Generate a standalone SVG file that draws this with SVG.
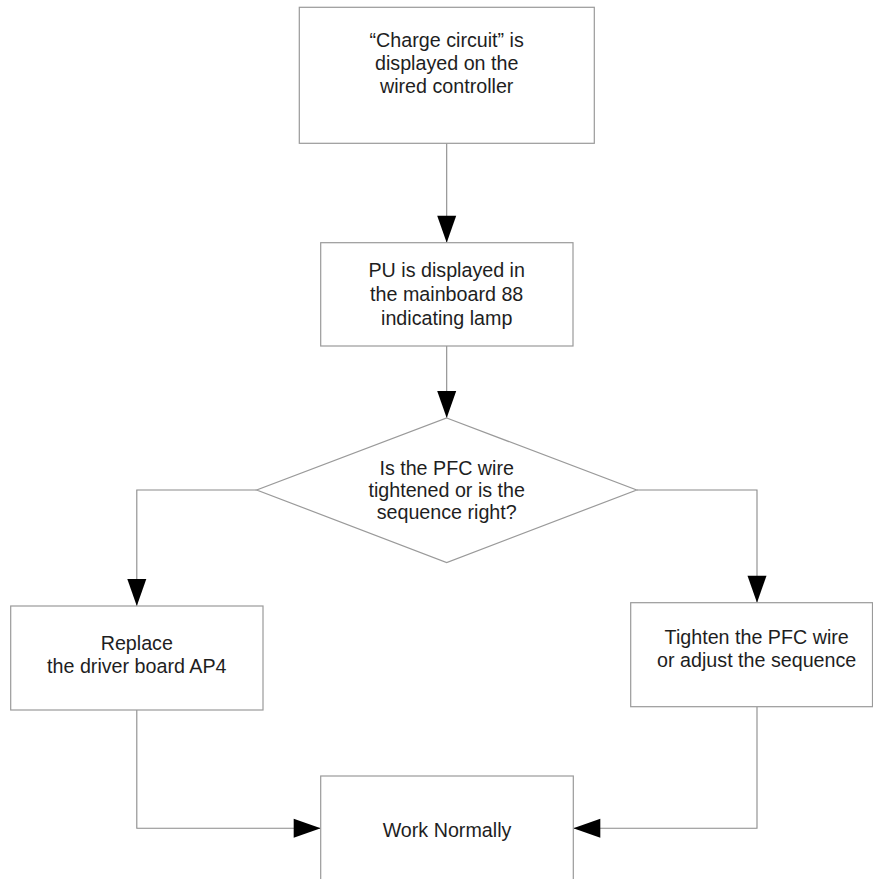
<svg xmlns="http://www.w3.org/2000/svg" width="873" height="879" viewBox="0 0 873 879">
  <style>
    .box { fill: #ffffff; stroke: #9a9a9a; stroke-width: 1.2; }
    .conn { fill: none; stroke: #8a8a8a; stroke-width: 1.1; }
    .t { font-family: "Liberation Sans", Arial, sans-serif; font-size: 19.7px; fill: #1e1e1e; text-anchor: middle; }
  </style>
  <defs>
    <marker id="arrow" markerUnits="userSpaceOnUse" markerWidth="28" markerHeight="19" refX="27" refY="9.5" orient="auto" overflow="visible">
      <path d="M0,0 L27,9.5 L0,19 Z" fill="#000000"/>
    </marker>
  </defs>
  <rect width="873" height="879" fill="#ffffff"/>

  <g id="connectors">
    <path class="conn" d="M446.7,143.3 L446.7,242.7" marker-end="url(#arrow)"/>
    <path class="conn" d="M446.7,346 L446.7,418" marker-end="url(#arrow)"/>
    <path class="conn" d="M256.7,490 L136.8,490 L136.8,606" marker-end="url(#arrow)"/>
    <path class="conn" d="M636.7,490 L757,490 L757,602.7" marker-end="url(#arrow)"/>
    <path class="conn" d="M136.8,710 L136.8,828.3 L320.7,828.3" marker-end="url(#arrow)"/>
    <path class="conn" d="M757,706.7 L757,828.3 L573.3,828.3" marker-end="url(#arrow)"/>
  </g>

  <g id="node-charge-circuit">
    <rect class="box" x="299.3" y="7.3" width="295" height="136"/>
    <text class="t" x="446.7" y="46.7">“Charge circuit” is</text>
    <text class="t" x="446.7" y="69.7">displayed on the</text>
    <text class="t" x="446.7" y="92.7">wired controller</text>
  </g>

  <g id="node-pu-displayed">
    <rect class="box" x="320.7" y="242.7" width="252.3" height="103.3"/>
    <text class="t" x="446.7" y="277">PU is displayed in</text>
    <text class="t" x="446.7" y="301">the mainboard 88</text>
    <text class="t" x="446.7" y="325">indicating lamp</text>
  </g>

  <g id="node-decision">
    <polygon class="box" points="446.7,418 636.7,490 446.7,562.5 256.7,490"/>
    <text class="t" x="446.7" y="475">Is the PFC wire</text>
    <text class="t" x="446.7" y="497">tightened or is the</text>
    <text class="t" x="446.7" y="519">sequence right?</text>
  </g>

  <g id="node-replace">
    <rect class="box" x="10.7" y="606" width="252.3" height="104"/>
    <text class="t" x="136.8" y="650">Replace</text>
    <text class="t" x="136.8" y="672.7">the driver board AP4</text>
  </g>

  <g id="node-tighten">
    <rect class="box" x="630.7" y="602.7" width="241.8" height="104"/>
    <text class="t" x="756.7" y="644">Tighten the PFC wire</text>
    <text class="t" x="756.7" y="667.3">or adjust the sequence</text>
  </g>

  <g id="node-work-normally">
    <rect class="box" x="320.7" y="776" width="252.6" height="120"/>
    <text class="t" x="447" y="837.3">Work Normally</text>
  </g>
</svg>
